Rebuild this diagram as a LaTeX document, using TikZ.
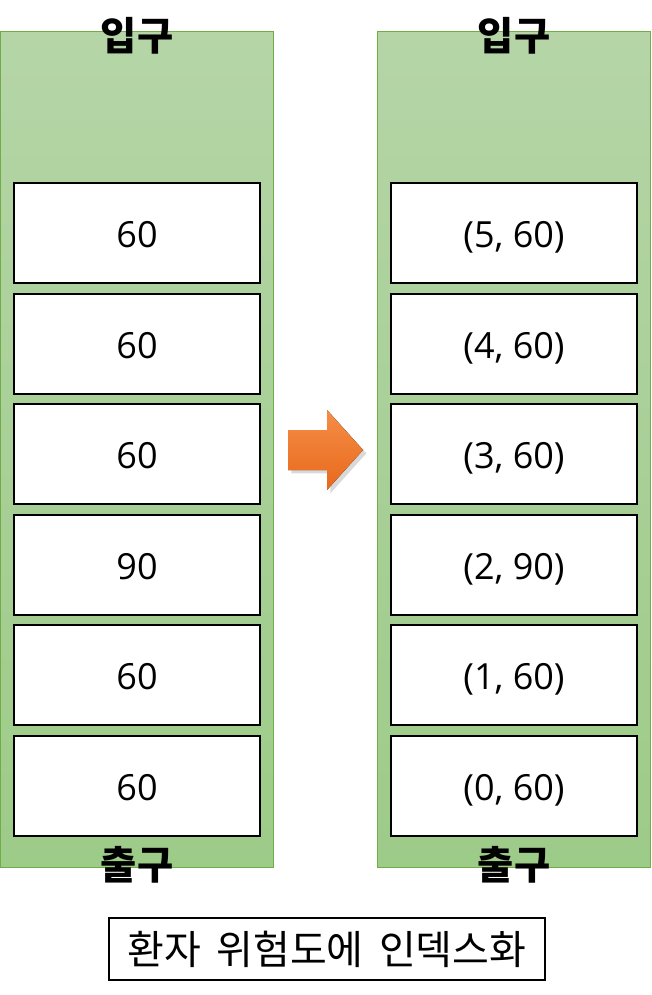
\documentclass[tikz,border=0pt]{standalone}
\usepackage{fontspec}
\setmainfont{Noto Sans CJK KR}
\newfontfamily\numfont{Open Sans}
\newfontfamily\capfont[WordSpace=1.7]{Noto Sans CJK KR}
\usetikzlibrary{shadows}

\definecolor{qtop}{HTML}{B5D5A7}
\definecolor{qbot}{HTML}{9DCB88}
\definecolor{qline}{HTML}{70AD47}
\definecolor{otop}{HTML}{F58D47}
\definecolor{obot}{HTML}{E8691C}

\tikzset{
  queue/.style={draw=qline, line width=0.75pt, minimum width=204.75pt,
    minimum height=626.25pt, top color=qtop, bottom color=qbot},
  cell/.style={draw, line width=1.5pt, fill=white, minimum width=184.5pt, minimum height=75pt,
    text height=22.3pt, text depth=0pt, font=\numfont\fontsize{27}{30}\selectfont},
  gate/.style={font=\fontsize{29.5}{32}\selectfont\bfseries},
}

\begin{document}
\begin{tikzpicture}[x=0.75pt, y=-0.75pt]
  \useasboundingbox (0,0) rectangle (651,995);

  % two queues
  \node[queue] (q1) at (136.5,449.5) {};
  \node[queue] (q2) at (514,449.5) {};

  \node[gate] (in1) at (137,36) {입구};
  \node[gate] (in2) at (514,36) {입구};
  \node[gate] (out1) at (137,865) {출구};
  \node[gate] (out2) at (514,865) {출구};

  % left cells
  \node[cell] (a5) at (137,233) {60};
  \node[cell] (a4) at (137,343.5) {60};
  \node[cell] (a3) at (137,454) {60};
  \node[cell] (a2) at (137,564.5) {90};
  \node[cell] (a1) at (137,675) {60};
  \node[cell] (a0) at (137,786) {60};

  % right cells
  \node[cell] (b5) at (514,233) {(5, 60)};
  \node[cell] (b4) at (514,343.5) {(4, 60)};
  \node[cell] (b3) at (514,454) {(3, 60)};
  \node[cell] (b2) at (514,564.5) {(2, 90)};
  \node[cell] (b1) at (514,675) {(1, 60)};
  \node[cell] (b0) at (514,786) {(0, 60)};

  % arrow
  \fill[top color=otop, bottom color=obot, drop shadow={shadow xshift=2.5pt, shadow yshift=-2.5pt, opacity=0.3}]
    (288,430) -- (327,430) -- (327,410) -- (363,450) -- (327,490) -- (327,470) -- (288,470) -- cycle;

  \node[draw, line width=1.5pt, minimum width=327pt, minimum height=46.5pt,
    font=\capfont\fontsize{30}{32}\selectfont] (cap) at (327,949) {환자 위험도에 인덱스화};
\end{tikzpicture}
\end{document}
